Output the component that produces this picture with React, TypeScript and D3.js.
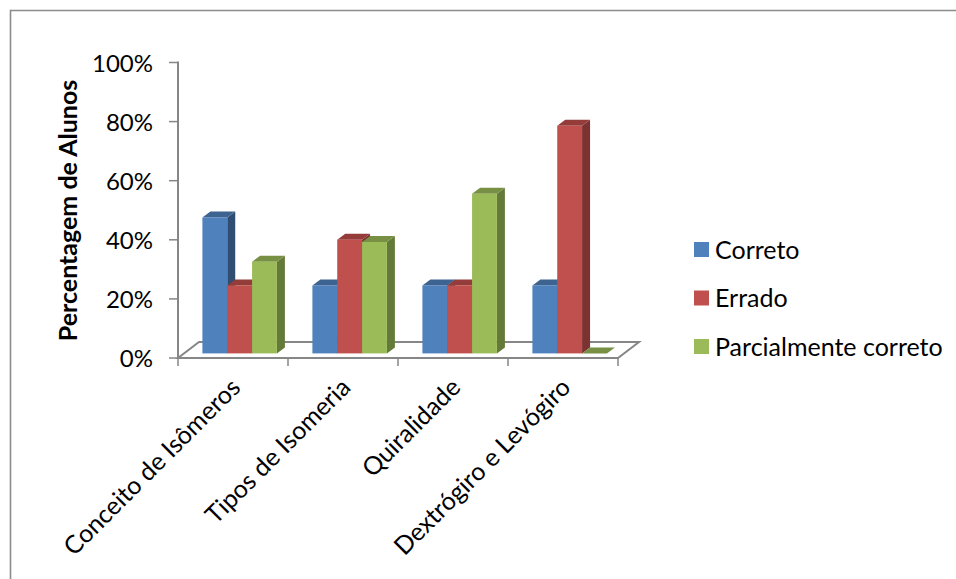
import React from "react";
import * as d3 from "d3";

const categories = ["Conceito de Isômeros", "Tipos de Isomeria", "Quiralidade", "Dextrógiro e Levógiro"];
const seriesNames = ["Correto", "Errado", "Parcialmente correto"];
const correto = [46, 23, 23, 23];
const errado = [23, 38.5, 23, 77];
const parcial = [31, 37.7, 54, 0];
const yTicks = [0, 20, 40, 60, 80, 100];

const seriesValues = [correto, errado, parcial];
const faceColors = ["#4f81bd", "#c0504d", "#9bbb59"];
const topColors = ["#3d6390", "#943c3a", "#779043"];
const sideColors = ["#2f4e72", "#7b3230", "#637a38"];

const FONT = "Lato, Carlito, Calibri, sans-serif";
const AXIS = "#868686";

const plotLeft = 178;
const plotRight = 618;
const yZero = 358;
const yFull = 62.5;
const depthX = 8;
const depthY = 6;
const barLift = 4.6;
const floorDx = 21;
const floorDy = 16;

const x0 = d3.scaleBand<string>().domain(categories).range([plotLeft, plotRight]);
const x1 = d3.scaleBand<string>().domain(seriesNames).range([24.4, 98.9]);
const y = d3.scaleLinear().domain([0, 100]).range([yZero, yFull]);

const poly = (pts: [number, number][]) => pts.map((p) => p.join(",")).join(" ");

function Bar({ left, width, value, s }: { left: number; width: number; value: number; s: number }) {
  const bottom = y(0) - barLift;
  const top = y(value) - barLift;
  const right = left + width;
  return (
    <g>
      {value > 0 && (
        <polygon
          points={poly([[right, top], [right + depthX, top - depthY], [right + depthX, bottom - depthY], [right, bottom]])}
          fill={sideColors[s]}
        />
      )}
      <polygon
        points={poly([[left, top], [left + depthX, top - depthY], [right + depthX, top - depthY], [right, top]])}
        fill={topColors[s]}
      />
      {value > 0 && <rect x={left} y={top} width={width} height={bottom - top} fill={faceColors[s]} />}
    </g>
  );
}

export default function App() {
  const band = x0.bandwidth();
  const tickXs = [...categories.map((c) => x0(c) as number), plotRight];
  return (
    <svg
      width={956}
      height={579}
      viewBox="0 0 956 579"
      style={{ position: "absolute", left: 0, top: 0, background: "#fff" }}
      fontFamily={FONT}
    >
      {/* outer chart frame, open on the right and at the bottom */}
      <path d="M10.5,579 V10.5 H956" fill="none" stroke="#8c8c8c" strokeWidth={1.6} />

      {/* floor of the 3D plot */}
      <polygon
        points={poly([
          [plotLeft, yZero],
          [plotRight, yZero],
          [plotRight + floorDx, yZero - floorDy],
          [plotLeft + floorDx, yZero - floorDy],
        ])}
        fill="none"
        stroke={AXIS}
        strokeWidth={2}
      />

      {/* vertical axis with tick labels */}
      <line x1={plotLeft} x2={plotLeft} y1={yFull - 1} y2={yZero + 1} stroke={AXIS} strokeWidth={2} />
      {yTicks.map((t) => (
        <g key={t}>
          <line x1={plotLeft - 9} x2={plotLeft} y1={y(t)} y2={y(t)} stroke={AXIS} strokeWidth={1.5} />
          <text x={plotLeft - 25} y={y(t) + 9} fontSize={24} textAnchor="end" fill="#000">
            {t}%
          </text>
        </g>
      ))}

      {/* horizontal axis ticks */}
      {tickXs.map((t) => (
        <line key={t} x1={t} x2={t} y1={yZero} y2={yZero + 8} stroke={AXIS} strokeWidth={1.5} />
      ))}

      {/* bars, painted left to right so nearer faces cover the side walls */}
      {categories.map((c, i) => (
        <g key={c}>
          {seriesNames.map((n, s) => (
            <Bar
              key={n}
              left={(x0(c) as number) + (x1(n) as number)}
              width={x1.bandwidth()}
              value={seriesValues[s][i]}
              s={s}
            />
          ))}
        </g>
      ))}

      {/* category labels */}
      {categories.map((c) => (
        <text
          key={c}
          transform={`translate(${(x0(c) as number) + band / 2 + 9},${yZero + 31}) rotate(-45)`}
          textAnchor="end"
          fontSize={25}
          fill="#000"
        >
          {c}
        </text>
      ))}

      {/* axis title */}
      <text
        transform="translate(77,210.5) rotate(-90)"
        textAnchor="middle"
        fontSize={25}
        fontWeight={700}
        fill="#000"
      >
        Percentagem de Alunos
      </text>

      {/* legend */}
      {seriesNames.map((n, s) => (
        <g key={n} transform={`translate(694,${242 + s * 48.5})`}>
          <rect width={15} height={15} fill={faceColors[s]} />
          <text x={21} y={16.5} fontSize={25} fill="#000">
            {n}
          </text>
        </g>
      ))}
    </svg>
  );
}
